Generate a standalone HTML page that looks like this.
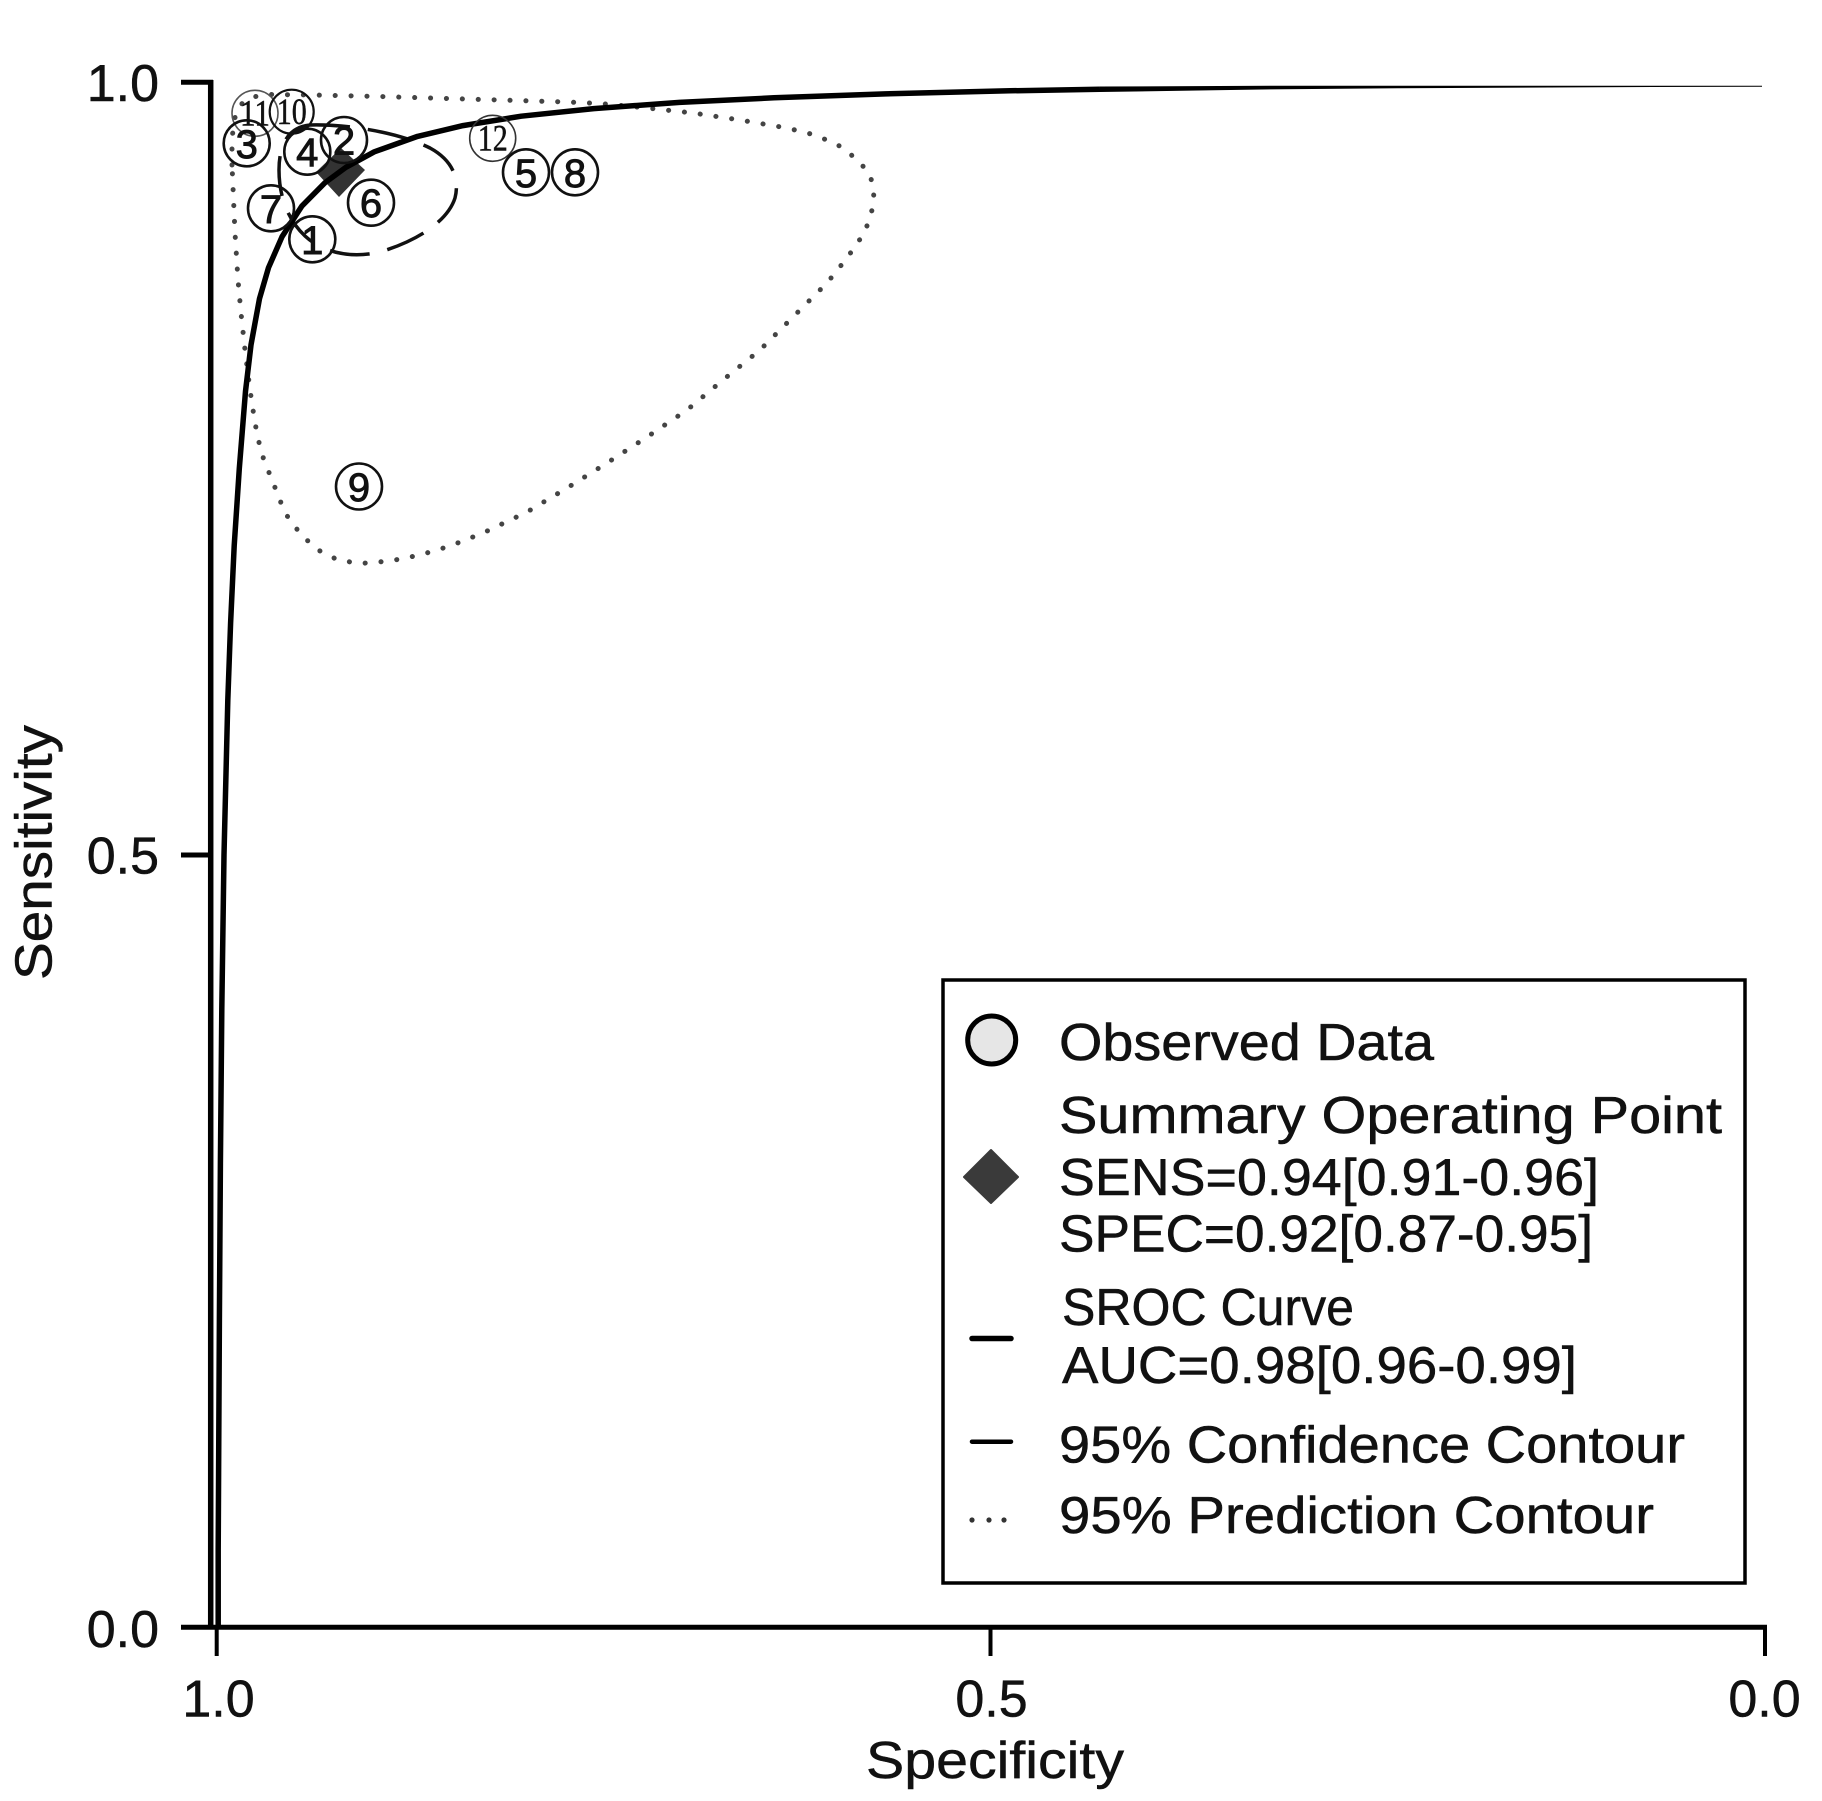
<!DOCTYPE html>
<html>
<head>
<meta charset="utf-8">
<style>
  html, body { margin: 0; padding: 0; background: #ffffff; }
  svg { display: block; }
  text { font-family: "Liberation Sans", "DejaVu Sans", sans-serif; fill: #111; stroke: #111; stroke-width: 0.5; }
  .serif { font-family: "Liberation Serif", "DejaVu Serif", serif; }
</style>
</head>
<body>
<svg width="1822" height="1801" viewBox="0 0 1822 1801" xmlns="http://www.w3.org/2000/svg">
  <rect x="0" y="0" width="1822" height="1801" fill="#ffffff"/>

  <!-- Prediction contour (dotted) -->
  <polyline fill="none" stroke="#444" stroke-width="5" stroke-linecap="round" stroke-dasharray="0.1 15.8"
    points="232,165 232,140 234,120 240,105 252,97 270,94.5 313,95 380,96.5 440,98.3 500,100 567,102 600,103.5 647,108 693,113 740,120 787,128 815,135 838,145 858,160 870,175 874,190 873,207 865,232 847,258 827,283 793,317 760,350 723,380 687,410 647,437 607,463 567,488 527,512 483,533 450,546 420,555 390,561 360,563.5 338,560 320,551 302,536 285,513 276,490 268,470 261,452 255,423 250,390 245,350 241,313 238,280 235,233 233,187 232,165"/>

  <!-- Confidence contour (dashed) -->
  <path d="M 310,125 C 350,124 400,133 430,148 C 452,160 460,178 455,198 C 448,220 420,240 380,252 C 350,259 322,252 305,236 C 287,219 279,195 279,170 C 279,145 288,127 310,125 Z"
    fill="none" stroke="#111" stroke-width="3.5" stroke-dasharray="40 18"/>

  <!-- Summary point diamond -->
  <polygon points="316,172 341,148 365,170 339,197" fill="#333"/>

  <!-- SROC curve -->
  <polyline fill="none" stroke="#000" stroke-width="5.5" stroke-linejoin="round" stroke-linecap="butt"
    points="218.2,1627 218.2,1550 218.6,1472.8 219.4,1318.3 220.4,1163.8 221.8,1009.3 224,854.8 227.8,700.3 230.6,623 234.2,545.8 239.3,468.6 245.5,391.3 251,344.9 259.5,298.6 268.5,267.7 282,236.8 302,205.9 325,182.7 345.9,167.3 374.3,151.8 417.5,136.4 463,125.6 521.2,116.2 593.7,108.6 679.6,102.4 774,97.8 885.4,93.9 1010,90.8 1100,89.3"/>
  <polygon points="1100,86.55 1270,85.8 1400,85.8 1600,85.8 1762,85.7 1762,86.7 1600,87.2 1400,88.2 1270,89.4 1100,92.05" fill="#000"/>

  <!-- Observed data circles -->
  <g fill="none">
    <circle cx="255" cy="113.3" r="23" stroke="#555" stroke-width="1.6"/>
    <circle cx="291.7" cy="111.7" r="22" stroke="#111" stroke-width="2.2"/>
    <circle cx="246.7" cy="143.3" r="23" stroke="#111" stroke-width="2.6"/>
    <circle cx="307.3" cy="151.7" r="23" stroke="#111" stroke-width="2.6"/>
    <circle cx="344" cy="140" r="23" stroke="#111" stroke-width="2.6"/>
    <circle cx="271" cy="208.3" r="23" stroke="#111" stroke-width="2.6"/>
    <circle cx="312.3" cy="239.3" r="23" stroke="#111" stroke-width="2.6"/>
    <circle cx="371" cy="202.7" r="23" stroke="#111" stroke-width="2.6"/>
    <circle cx="492.7" cy="138.3" r="23" stroke="#333" stroke-width="1.6"/>
    <circle cx="526" cy="172.3" r="23" stroke="#111" stroke-width="2.6"/>
    <circle cx="575" cy="172.3" r="23" stroke="#111" stroke-width="2.6"/>
    <circle cx="359" cy="486.5" r="23" stroke="#111" stroke-width="2.6"/>
  </g>
  <g font-size="40" text-anchor="middle">
    <text x="246.7" y="157.8" style="stroke-width:0.9">3</text>
    <text x="307.3" y="166.2" style="stroke-width:0.9">4</text>
    <text x="344" y="154.5" style="stroke-width:0.9">2</text>
    <text x="271" y="222.8" style="stroke-width:0.9">7</text>
    <text x="312.3" y="253.8" style="stroke-width:0.9">1</text>
    <text x="371" y="217.2" style="stroke-width:0.9">6</text>
    <text x="526" y="186.8" style="stroke-width:0.9">5</text>
    <text x="575" y="186.8" style="stroke-width:0.9">8</text>
    <text x="359" y="501" style="stroke-width:0.9">9</text>
  </g>
  <g font-size="37" text-anchor="middle">
    <text class="serif" x="255" y="125.5" textLength="30" lengthAdjust="spacingAndGlyphs" fill="#222">11</text>
    <text class="serif" x="291.7" y="124" textLength="30" lengthAdjust="spacingAndGlyphs">10</text>
    <text class="serif" x="492.7" y="150.5" textLength="30" lengthAdjust="spacingAndGlyphs">12</text>
  </g>

  <!-- Axes -->
  <line x1="210.7" y1="80" x2="210.7" y2="1629.5" stroke="#000" stroke-width="5.5"/>
  <line x1="181" y1="82.3" x2="213" y2="82.3" stroke="#000" stroke-width="5"/>
  <line x1="181" y1="855" x2="210" y2="855" stroke="#000" stroke-width="5"/>
  <line x1="181" y1="1627.3" x2="1767" y2="1627.3" stroke="#000" stroke-width="5"/>
  <line x1="216.7" y1="1627" x2="216.7" y2="1656" stroke="#000" stroke-width="4"/>
  <line x1="990.5" y1="1627" x2="990.5" y2="1656" stroke="#000" stroke-width="4"/>
  <line x1="1765" y1="1627" x2="1765" y2="1656" stroke="#000" stroke-width="4"/>

  <!-- Tick labels -->
  <g font-size="52">
    <text x="159" y="101" text-anchor="end">1.0</text>
    <text x="159" y="873.5" text-anchor="end">0.5</text>
    <text x="159" y="1647" text-anchor="end">0.0</text>
    <text x="218.5" y="1716.5" text-anchor="middle">1.0</text>
    <text x="991.5" y="1716.5" text-anchor="middle">0.5</text>
    <text x="1764.5" y="1716.5" text-anchor="middle">0.0</text>
  </g>

  <!-- Axis titles -->
  <text x="866" y="1778" font-size="52" textLength="258" lengthAdjust="spacingAndGlyphs">Specificity</text>
  <text transform="translate(51.7,980) rotate(-90)" x="0" y="0" font-size="52" textLength="255" lengthAdjust="spacingAndGlyphs">Sensitivity</text>

  <!-- Legend -->
  <rect x="943" y="980" width="802" height="603" fill="#fff" stroke="#000" stroke-width="3.5"/>
  <circle cx="991.7" cy="1040" r="24" fill="#e6e6e6" stroke="#000" stroke-width="5"/>
  <polygon points="964,1177 991,1150 1018,1177 991,1203" fill="#3a3a3a" stroke="#3a3a3a" stroke-width="2" stroke-linejoin="round"/>
  <line x1="972" y1="1338.5" x2="1011" y2="1338.5" stroke="#000" stroke-width="5.5" stroke-linecap="round"/>
  <line x1="972" y1="1441.7" x2="1011" y2="1441.7" stroke="#000" stroke-width="4.5" stroke-linecap="round"/>
  <circle cx="972" cy="1520" r="2.6" fill="#333"/>
  <circle cx="989" cy="1520" r="2.6" fill="#333"/>
  <circle cx="1004" cy="1520" r="2.6" fill="#333"/>

  <g font-size="52">
    <text x="1059" y="1060" textLength="375" lengthAdjust="spacingAndGlyphs">Observed Data</text>
    <text x="1059" y="1133" textLength="663" lengthAdjust="spacingAndGlyphs">Summary Operating Point</text>
    <text x="1059" y="1195" textLength="540" lengthAdjust="spacingAndGlyphs">SENS=0.94[0.91-0.96]</text>
    <text x="1059" y="1251.7" textLength="534" lengthAdjust="spacingAndGlyphs">SPEC=0.92[0.87-0.95]</text>
    <text x="1062" y="1325" textLength="292" lengthAdjust="spacingAndGlyphs">SROC Curve</text>
    <text x="1062" y="1383" textLength="515" lengthAdjust="spacingAndGlyphs">AUC=0.98[0.96-0.99]</text>
    <text x="1059" y="1462.7" textLength="626" lengthAdjust="spacingAndGlyphs">95% Confidence Contour</text>
    <text x="1059" y="1533" textLength="595" lengthAdjust="spacingAndGlyphs">95% Prediction Contour</text>
  </g>
</svg>
</body>
</html>
